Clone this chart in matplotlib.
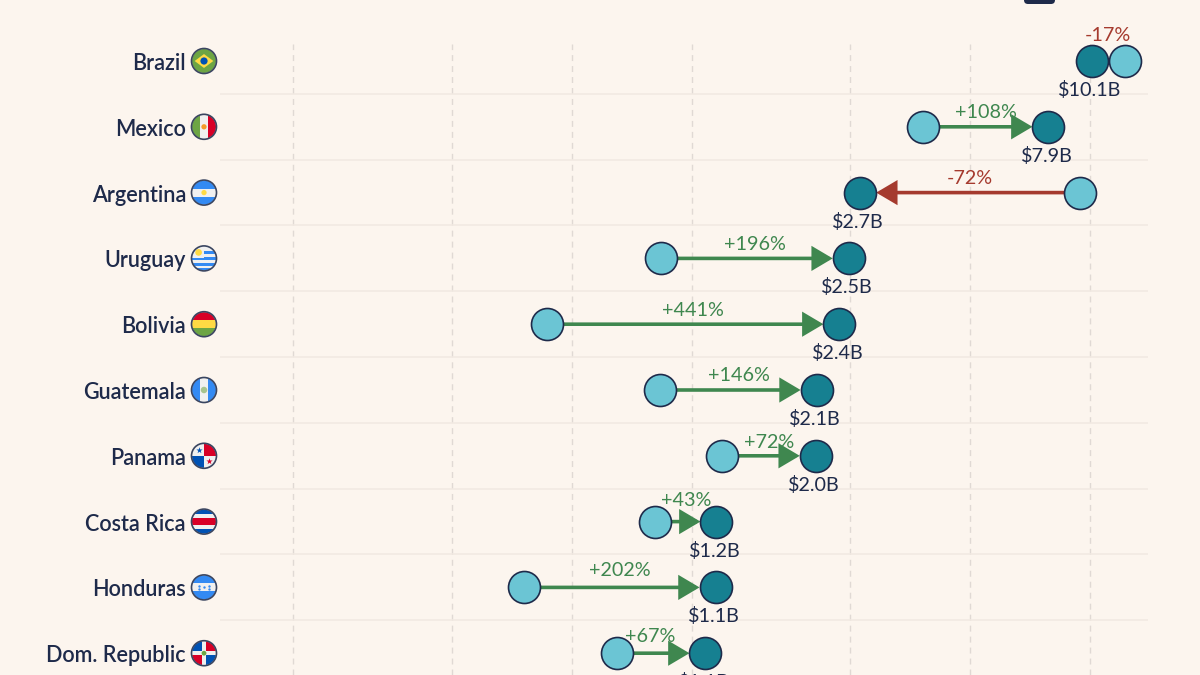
import matplotlib
matplotlib.use("Agg")
import matplotlib.pyplot as plt
from matplotlib.patches import Circle, Rectangle, Polygon, FancyBboxPatch
from matplotlib.transforms import ScaledTranslation

countries = ["Brazil", "Mexico", "Argentina", "Uruguay", "Bolivia", "Guatemala",
             "Panama", "Costa Rica", "Honduras", "Dom. Republic"]
start_vals = [12.2, 3.80, 9.44, 0.84, 0.435, 0.836, 1.19, 0.81, 0.38, 0.652]
end_vals = [10.1, 7.86, 2.65, 2.48, 2.35, 2.06, 2.05, 1.155, 1.149, 1.084]
value_labels = ["$10.1B", "$7.9B", "$2.7B", "$2.5B", "$2.4B", "$2.1B", "$2.0B",
                "$1.2B", "$1.1B", "$1.1B"]
pct_labels = ["-17%", "+108%", "-72%", "+196%", "+441%", "+146%", "+72%", "+43%",
              "+202%", "+67%"]
grid_vals = [0.1, 0.25, 0.5, 1, 2.5, 5, 10]

BG = "#fcf5ee"
INK = "#1e2a4a"
LIGHT = "#6bc5d4"
DARK = "#168091"
GREEN = "#3f874f"
RED = "#a53a2e"
FONT = "Lato"

PX = 1 / 100 * 72  # points per pixel at dpi 100
ROW = 65.8
TOP = 44

plt.rcParams["font.family"] = FONT

fig = plt.figure(figsize=(12, 6.75), dpi=100, facecolor=BG)
ax = fig.add_axes([220 / 1200, 0, 928 / 1200, 631 / 675])
ax.set_facecolor("none")
ax.set_xscale("log", base=2)
# x scale: 120px per doubling, $1B sits at x=691px
ax.set_xlim(2 ** ((220 - 691.5) / 120), 2 ** ((1148 - 691.5) / 120))
ax.set_ylim((675 - 61) / ROW, (TOP - 61) / ROW)
for s in ax.spines.values():
    s.set_visible(False)

ax.set_xticks(grid_vals, [""] * len(grid_vals))
ax.minorticks_off()
ax.grid(axis="x", color="#e0d9d4", lw=1, linestyle=(0, (4.3, 3.6)), zorder=1)
ax.set_axisbelow(True)
ax.set_yticks(range(len(countries)), countries, fontsize=15.6, color=INK, fontweight="semibold")
ax.tick_params(axis="both", length=0)
ax.tick_params(axis="y", pad=34 * PX)
for lab in ax.get_yticklabels():
    lab.set_transform(lab.get_transform() + ScaledTranslation(0, -0.5 / 100, fig.dpi_scale_trans))
ax.hlines([i + 0.5 for i in range(len(countries) - 1)], *ax.get_xlim(), color="#f1e9e2", lw=1.1, zorder=1)

# nudges for the percent labels that get moved off the circles
pct_dx = {9: -11}
pct_dy = {0: 27, 6: 15, 7: 23, 8: 19, 9: 19}

for i, name in enumerate(countries):
    a, b = start_vals[i], end_vals[i]
    col = GREEN if b > a else RED
    if i > 0:
        ax.annotate("", xy=(b, i), xytext=(a, i), zorder=2,
                    arrowprops=dict(arrowstyle="-|>,head_length=%.1f,head_width=%.1f" % (16 * PX, 9.5 * PX),
                                    mutation_scale=1, color=col, lw=3.6 * PX,
                                    joinstyle="miter", capstyle="butt",
                                    shrinkA=16 * PX, shrinkB=16 * PX))
    ax.annotate(pct_labels[i], xy=((a * b) ** 0.5, i), xytext=(pct_dx.get(i, 0) * PX, (pct_dy.get(i, 16) - 2) * PX),
                textcoords="offset points", ha="center", va="center", fontsize=14.2, color=col,
                annotation_clip=False)
    ax.annotate(value_labels[i], xy=(b, i), xytext=(-2 * PX, -29 * PX), textcoords="offset points",
                ha="center", va="center", fontsize=14.2, color=INK, annotation_clip=False)

rows = list(range(len(countries)))
ax.scatter(start_vals, rows, s=(32 * PX) ** 2, color=LIGHT, edgecolor=INK, lw=1.2, zorder=3, clip_on=False)
ax.scatter(end_vals, rows, s=(32 * PX) ** 2, color=DARK, edgecolor=INK, lw=1.2, zorder=3, clip_on=False)

# pixel overlay for the flags and the legend stub cut off at the top edge
ov = fig.add_axes([0, 0, 1, 1])
ov.set_xlim(0, 1200)
ov.set_ylim(675, 0)
ov.axis("off")
ov.patch.set_alpha(0)

ov.add_patch(FancyBboxPatch((1024, -12), 31, 16, boxstyle="round,pad=0,rounding_size=4", fc=INK, ec="none"))

BLUE = "#0052b4"
SKY = "#338af3"
FRED = "#d80027"
FGREEN = "#6da544"
YEL = "#ffda44"
WHITE = "#f0f0f0"


def rects(cx, cy, r, items):
    out = []
    for x0, y0, w, h, c in items:
        out.append(Rectangle((cx + x0 * r, cy + y0 * r), w * r, h * r, fc=c, ec="none"))
    return out


flags = {
    "Brazil": [(-1, -1, 2, 2, FGREEN)],
    "Mexico": [(-1, -1, .66, 2, FGREEN), (-.34, -1, .68, 2, WHITE), (.34, -1, .66, 2, FRED)],
    "Argentina": [(-1, -1, 2, .66, SKY), (-1, -.34, 2, .68, WHITE), (-1, .34, 2, .66, SKY)],
    "Uruguay": [(-1, -1, 2, 2, WHITE), (-1, -.62, 2, .24, SKY), (-1, -.12, 2, .24, SKY), (-1, .38, 2, .24, SKY),
                (-1, .8, 2, .2, SKY), (-1, -1, 1, 1, WHITE)],
    "Bolivia": [(-1, -1, 2, .66, FRED), (-1, -.34, 2, .68, YEL), (-1, .34, 2, .66, FGREEN)],
    "Guatemala": [(-1, -1, .66, 2, SKY), (-.34, -1, .68, 2, WHITE), (.34, -1, .66, 2, SKY)],
    "Panama": [(-1, -1, 2, 2, WHITE), (0, -1, 1, 1, FRED), (-1, 0, 1, 1, BLUE)],
    "Costa Rica": [(-1, -1, 2, 2, BLUE), (-1, -.62, 2, 1.24, WHITE), (-1, -.32, 2, .64, FRED)],
    "Honduras": [(-1, -1, 2, .66, SKY), (-1, -.34, 2, .68, WHITE), (-1, .34, 2, .66, SKY)],
    "Dom. Republic": [(-1, -1, 2, 2, WHITE), (-1, -1, .84, .84, BLUE), (.16, -1, .84, .84, FRED),
                      (-1, .16, .84, .84, FRED), (.16, .16, .84, .84, BLUE)],
}
centre_dots = {
    "Mexico": ("#f59b2b", .22), "Argentina": (YEL, .22), "Guatemala": ("#a7c48f", .27),
    "Dom. Republic": (FGREEN, .2), "Brazil": (BLUE, .3),
}

R = 12
for i, name in enumerate(countries):
    cx, cy = 204, 61 + ROW * i
    clip = Circle((cx, cy), R, transform=ov.transData)
    for p in rects(cx, cy, R, flags[name]):
        ov.add_patch(p)
        p.set_clip_path(clip)
    if name == "Brazil":
        ov.add_patch(Polygon([(cx - .78 * R, cy), (cx, cy - .58 * R), (cx + .78 * R, cy), (cx, cy + .58 * R)], fc=YEL, ec="none"))
    if name == "Uruguay":
        ov.add_patch(Circle((cx - .45 * R, cy - .5 * R), .28 * R, fc=YEL, ec="none"))
    if name == "Panama":
        ov.scatter([cx - .45 * R], [cy - .45 * R], marker="*", s=22, color=BLUE, lw=0)
        ov.scatter([cx + .45 * R], [cy + .45 * R], marker="*", s=22, color=FRED, lw=0)
    if name == "Honduras":
        ov.scatter([cx - .4 * R, cx - .4 * R, cx, cx + .4 * R, cx + .4 * R],
                   [cy - .15 * R, cy + .15 * R, cy, cy - .15 * R, cy + .15 * R], s=3, color=SKY, lw=0)
    if name in centre_dots:
        c, rr = centre_dots[name]
        ov.add_patch(Circle((cx, cy), rr * R, fc=c, ec="none"))
    ov.add_patch(Circle((cx, cy), R + .5, fc="none", ec="#3a4560", lw=1.2))

fig.savefig("out.png", dpi=100, facecolor=BG)
